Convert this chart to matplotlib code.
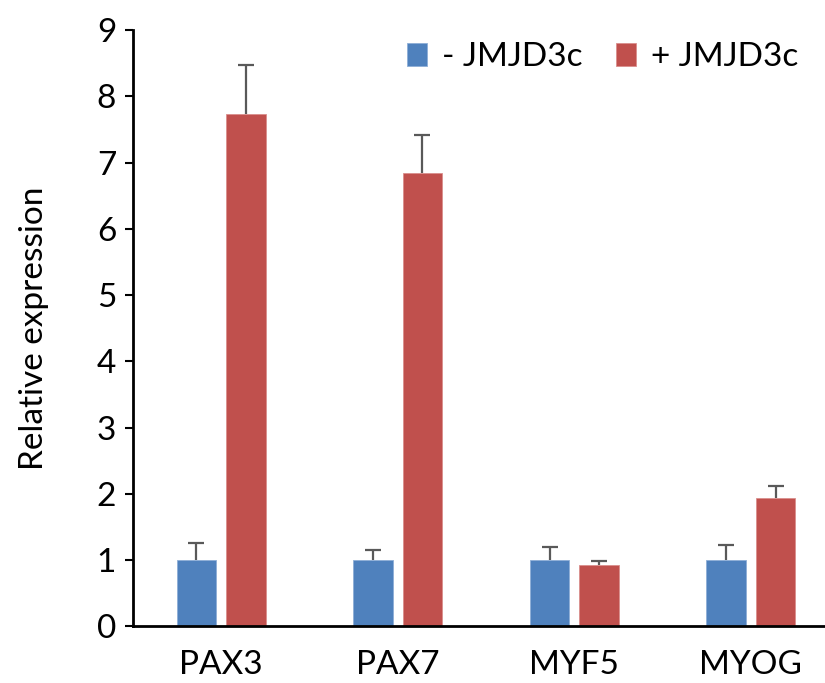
import numpy as np
import matplotlib.pyplot as plt

genes = ["PAX3", "PAX7", "MYF5", "MYOG"]
minus_vals = [1.0, 1.0, 1.0, 1.0]
minus_err = [0.25, 0.15, 0.20, 0.23]
plus_vals = [7.73, 6.84, 0.92, 1.94]
plus_err = [0.75, 0.58, 0.06, 0.18]

plt.rcParams["font.family"] = ["Lato", "DejaVu Sans"]

fig = plt.figure(figsize=(8.25, 6.83), dpi=100)
ax = fig.add_axes([0.161, 0.083, 0.839, 0.873])

x = np.arange(len(genes))
w = 0.223
off = 0.14
zeros = np.zeros(len(genes))
ekw = dict(ecolor="#595959", elinewidth=1.6, capsize=6, capthick=1.6)

b1 = ax.bar(x - off, minus_vals, w, color="#4F81BD", edgecolor="#8EAED6", linewidth=0.6,
            yerr=[zeros, minus_err], error_kw=ekw, label="- JMJD3c")
b2 = ax.bar(x + off, plus_vals, w, color="#C0504D", edgecolor="#DA8F8D", linewidth=0.6,
            yerr=[zeros, plus_err], error_kw=ekw, label="+ JMJD3c")
# only the upper cap, like Excel "plus" error bars
for b in (b1, b2):
    caps = b.errorbar.lines[1]
    caps[0].set_visible(False)

ax.set_xlim(-0.5, 3.42)
ax.set_ylim(0, 9)
ax.set_yticks(range(10))
ax.set_xticks(x)
ax.set_xticklabels(genes)
ax.tick_params(axis="x", length=0, labelsize=24, pad=17)
ax.tick_params(axis="y", length=6, width=1.5, labelsize=24, pad=6, direction="out")
ax.set_ylabel("Relative expression", fontsize=24, labelpad=34)

for s in ["top", "right"]:
    ax.spines[s].set_visible(False)
for s in ["left", "bottom"]:
    ax.spines[s].set_linewidth(2)

ax.legend(loc="upper right", bbox_to_anchor=(1.005, 1.03), ncol=2, frameon=False,
          fontsize=24, handlelength=0.6, handleheight=0.7, handletextpad=0.45,
          columnspacing=1.0)

fig.savefig("out.png", dpi=100)
